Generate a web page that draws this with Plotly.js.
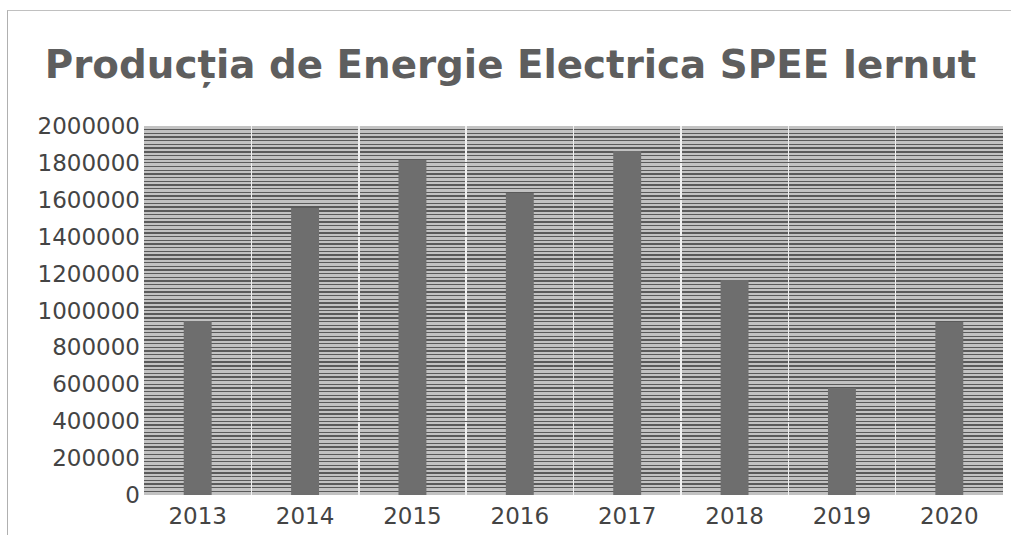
<!DOCTYPE html>
<html>
<head>
<meta charset="utf-8">
<script src="https://cdn.plot.ly/plotly-3.0.1.min.js"></script>
<style>
  html, body { margin: 0; padding: 0; background: #ffffff; }
  #wrap { position: relative; width: 1011px; height: 535px; overflow: hidden; }
  #chart { position: absolute; left: 0; top: 0; width: 1011px; height: 535px; }
  #frame { position: absolute; left: 7px; top: 10px; width: 1100px; height: 600px;
           border-left: 1px solid #b0b0b0; border-top: 1px solid #c0c0c0; pointer-events: none; }
</style>
</head>
<body>
<div id="wrap">
  <div id="chart"></div>
  <div id="frame"></div>
</div>
<script>
const years = ['2013', '2014', '2015', '2016', '2017', '2018', '2019', '2020'];
const production = [943000, 1556000, 1816000, 1637000, 1864000, 1165000, 580000, 938000];
const titleText = 'Producția de Energie Electrica SPEE Iernut';

const trace = {
  type: 'bar',
  x: years,
  y: production,
  width: 0.26,
  marker: { color: '#6e6e6e', line: { width: 0 } },
  hoverinfo: 'x+y'
};

const layout = {
  width: 1011,
  height: 535,
  margin: { l: 144, r: 8, t: 126, b: 40, pad: 0 },
  paper_bgcolor: 'rgba(0,0,0,0)',
  plot_bgcolor: '#c2c2c2',
  showlegend: false,
  bargap: 0.74,
  title: {
    text: '<b>' + titleText + '</b>',
    font: { family: 'DejaVu Sans', size: 38.8, color: '#5e5e5e' },
    x: 0.505, xanchor: 'center',
    y: 0.855, yanchor: 'bottom'
  },
  xaxis: {
    type: 'category',
    tickson: 'boundaries',
    showgrid: true,
    gridcolor: '#f0f0f0',
    gridwidth: 1.5,
    ticks: '',
    showline: false,
    zeroline: false,
    automargin: false,
    ticklabelstandoff: 5,
    tickfont: { family: 'DejaVu Sans', size: 23, color: '#444444' }
  },
  yaxis: {
    range: [0, 2000000],
    dtick: 200000,
    tick0: 0,
    tickformat: 'd',
    showgrid: true,
    gridcolor: '#5a5a5a',
    gridwidth: 1,
    zeroline: false,
    showline: false,
    ticks: '',
    ticklabelstandoff: 3,
    automargin: false,
    tickfont: { family: 'DejaVu Sans', size: 23, color: '#444444' },
    minor: {
      dtick: 20000,
      showgrid: true,
      gridcolor: '#5a5a5a',
      gridwidth: 1.4
    }
  }
};

Plotly.newPlot('chart', [trace], layout, { displayModeBar: false, staticPlot: true });
</script>
</body>
</html>
